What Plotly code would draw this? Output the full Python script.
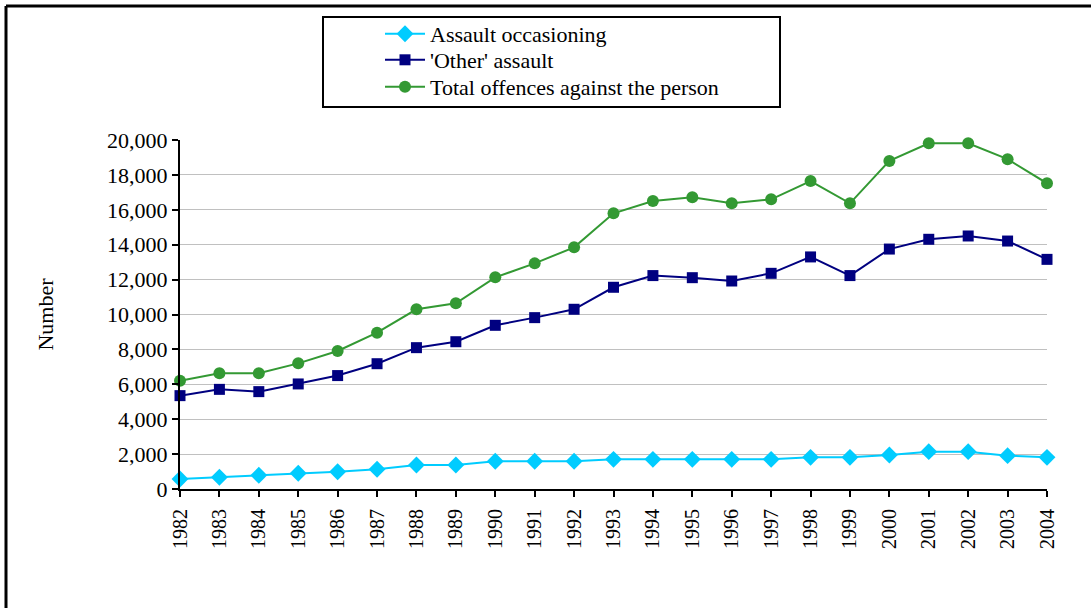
import plotly.graph_objects as go

years = [str(y) for y in range(1982, 2005)]
assault_occasioning = [573, 670, 785, 900, 990, 1130, 1375, 1375, 1590, 1590, 1590, 1700, 1700, 1700,
                       1700, 1700, 1815, 1815, 1950, 2140, 2140, 1910, 1815]
other_assault = [5350, 5710, 5580, 6020, 6500, 7180, 8100, 8440, 9380, 9820, 10300, 11560, 12230, 12110,
                 11920, 12360, 13300, 12230, 13750, 14310, 14500, 14210, 13160]
total_offences = [6200, 6630, 6630, 7200, 7910, 8960, 10300, 10640, 12130, 12930, 13850, 15800, 16500, 16720,
                  16370, 16600, 17650, 16370, 18800, 19810, 19810, 18900, 17520]
y_ticks = list(range(0, 20001, 2000))

W, H = 1091, 608
L, R, T, B = 180, 1047, 140, 489
FONT = "Liberation Serif, Times New Roman, serif"

def px_x(p):
    return (p - L) / (R - L)

def px_y(p):
    return (B - p) / (B - T)

fig = go.Figure()
fig.add_trace(go.Scatter(x=years, y=assault_occasioning, name="Assault occasioning", mode="lines+markers",
                         line=dict(color="#00ccff", width=2), marker=dict(symbol="diamond", size=13, color="#00ccff"),
                         cliponaxis=False, legend="legend"))
fig.add_trace(go.Scatter(x=years, y=other_assault, name="'Other' assault", mode="lines+markers",
                         line=dict(color="#000080", width=2), marker=dict(symbol="square", size=11, color="#000080"),
                         cliponaxis=False, legend="legend2"))
fig.add_trace(go.Scatter(x=years, y=total_offences, name="Total offences against the person", mode="lines+markers",
                         line=dict(color="#339933", width=2), marker=dict(symbol="circle", size=12, color="#339933"),
                         cliponaxis=False, legend="legend3"))

shapes = [
    # outer frame (top and left)
    dict(type="line", xref="paper", yref="paper", x0=px_x(6), x1=px_x(1100), y0=px_y(6), y1=px_y(6),
         line=dict(color="black", width=3)),
    dict(type="line", xref="paper", yref="paper", x0=px_x(6), x1=px_x(6), y0=px_y(6), y1=px_y(620),
         line=dict(color="black", width=3)),
    # legend box
    dict(type="rect", xref="paper", yref="paper", x0=px_x(323), x1=px_x(780), y0=px_y(17), y1=px_y(107),
         line=dict(color="black", width=2), fillcolor="white", layer="below"),
]

def leg(ypx):
    return dict(x=px_x(380), y=px_y(ypx), xanchor="left", yanchor="middle", bgcolor="rgba(0,0,0,0)",
                borderwidth=0, font=dict(family=FONT, size=22, color="black"), itemwidth=40)

fig.update_layout(
    width=W, height=H,
    margin=dict(l=L, r=W - R, t=T, b=H - B, pad=0),
    paper_bgcolor="white", plot_bgcolor="white",
    font=dict(family=FONT, size=22, color="black"),
    shapes=shapes,
    showlegend=True,
    legend=leg(34), legend2=leg(60), legend3=leg(87),
    xaxis=dict(type="category", range=[0, len(years) - 1], showgrid=False, showline=True, linecolor="black",
               linewidth=2, ticks="outside", ticklen=6, tickcolor="black", tickwidth=1.5, tickangle=-90,
               tickfont=dict(family=FONT, size=20), zeroline=False, ticklabelstandoff=4),
    yaxis=dict(range=[0, 20000], tickvals=y_ticks, tickformat=",d", showgrid=True, gridcolor="#c0c0c0",
               gridwidth=1, showline=True, linecolor="black", linewidth=2, ticks="outside", ticklen=6,
               tickcolor="black", tickwidth=1.5, zeroline=False, tickfont=dict(family=FONT, size=22),
               title=dict(text="Number", font=dict(family=FONT, size=22), standoff=47)),
)

post = "document.body.style.margin='0';document.body.style.overflow='hidden';"

fig.write_html("out.html", config={"displayModeBar": False}, post_script=post)
